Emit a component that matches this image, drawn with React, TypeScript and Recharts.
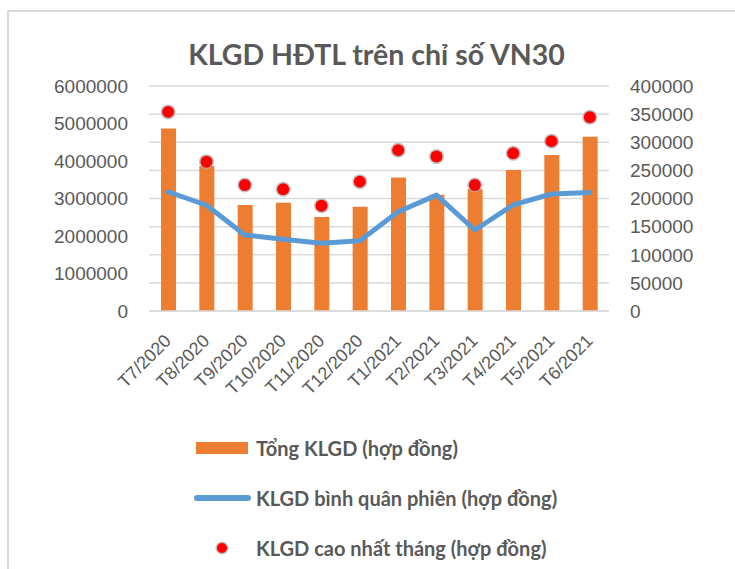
import React from 'react';
import { ComposedChart, Bar, Line, Scatter, XAxis, YAxis, CartesianGrid, Legend } from 'recharts';

const months = ['T7/2020', 'T8/2020', 'T9/2020', 'T10/2020', 'T11/2020', 'T12/2020', 'T1/2021', 'T2/2021', 'T3/2021', 'T4/2021', 'T5/2021', 'T6/2021'];
const totalVolume = [4870000, 3870000, 2830000, 2890000, 2510000, 2780000, 3560000, 3100000, 3250000, 3760000, 4160000, 4650000];
const avgPerSession = [212000, 188000, 135000, 127500, 120500, 125000, 176500, 206000, 144000, 188500, 208000, 210500];
const maxInMonth = [354000, 265500, 224000, 216500, 187000, 230000, 286000, 274500, 224000, 280500, 302000, 344500];
const leftTicks = [0, 1000000, 2000000, 3000000, 4000000, 5000000, 6000000];
const rightTicks = [0, 50000, 100000, 150000, 200000, 250000, 300000, 350000, 400000];
const seriesNames = ['Tổng KLGD (hợp đồng)', 'KLGD bình quân phiên (hợp đồng)', 'KLGD cao nhất tháng (hợp đồng)'];
const title = 'KLGD HĐTL trên chỉ số VN30';

const data = months.map((m, i) => ({ month: m, total: totalVolume[i], avg: avgPerSession[i], max: maxInMonth[i] }));

const FONT = 'Lato, "Open Sans", sans-serif';
const TICK_FONT = '"Liberation Sans", Arial, sans-serif';
const TEXT = '#595959';

const XTick = (props: any) => {
  const { x, y, payload } = props;
  const ax = x + 4;
  const ay = y + 23;
  return (
    <text x={ax} y={ay} transform={`rotate(-45, ${ax}, ${ay})`} textAnchor="end" fill={TEXT} fontSize={18} fontFamily={TICK_FONT}>
      {payload.value}
    </text>
  );
};

const LeftTick = (props: any) => {
  const { x, y, payload } = props;
  return (
    <text x={x} y={y} dy="0.36em" textAnchor="end" fill={TEXT} fontSize={19} fontFamily={TICK_FONT}>
      {payload.value}
    </text>
  );
};

const RightTick = (props: any) => {
  const { x, y, payload } = props;
  return (
    <text x={x} y={y} dy="0.36em" textAnchor="start" fill={TEXT} fontSize={19} fontFamily={TICK_FONT}>
      {payload.value}
    </text>
  );
};

const Dot = (props: any) => {
  const { cx, cy } = props;
  if (cx == null || cy == null) return null;
  return (
    <g>
      <circle cx={cx} cy={cy} r={7.5} fill="#A6A6A6" opacity={0.7} />
      <circle cx={cx} cy={cy} r={6} fill="#FF0000" />
    </g>
  );
};

const LegendContent = () => {
  const row: React.CSSProperties = { display: 'flex', alignItems: 'center', height: 50 };
  const label: React.CSSProperties = { fontFamily: FONT, fontWeight: 700, fontSize: 20, color: TEXT, marginLeft: 4, whiteSpace: 'nowrap' };
  return (
    <div style={{ width: 420 }}>
      <div style={row}>
        <div style={{ width: 60, display: 'flex', justifyContent: 'center' }}>
          <div style={{ width: 52, height: 12, background: '#ED7D31' }} />
        </div>
        <span style={label}>{seriesNames[0]}</span>
      </div>
      <div style={row}>
        <div style={{ width: 60, display: 'flex', justifyContent: 'center' }}>
          <div style={{ width: 57, height: 6, borderRadius: 3, background: '#5B9BD5' }} />
        </div>
        <span style={label}>{seriesNames[1]}</span>
      </div>
      <div style={row}>
        <div style={{ width: 60, display: 'flex', justifyContent: 'center' }}>
          <svg width={16} height={16}>
            <circle cx={8} cy={8} r={6.5} fill="#A6A6A6" opacity={0.7} />
            <circle cx={8} cy={8} r={5} fill="#FF0000" />
          </svg>
        </div>
        <span style={label}>{seriesNames[2]}</span>
      </div>
    </div>
  );
};

export default function App() {
  return (
    <div style={{ position: 'absolute', left: 0, top: 0, width: 735, height: 569, background: '#fff', overflow: 'hidden' }}>
      <div style={{ position: 'absolute', left: 7, top: 10, width: 728, height: 2, background: '#D9D9D9' }} />
      <div style={{ position: 'absolute', left: 7, top: 10, width: 2, height: 559, background: '#D9D9D9' }} />
      <div style={{ position: 'absolute', left: 0, top: 37, width: 753, textAlign: 'center', fontFamily: FONT, fontWeight: 700, fontSize: 28.5, lineHeight: 'normal', color: TEXT }}>
        {title}
      </div>
      <div style={{ position: 'absolute', left: 0, top: 0 }}>
        <ComposedChart width={735} height={569} data={data} margin={{ top: 86, right: 46, bottom: 198, left: 69 }}>
          <CartesianGrid yAxisId="right" vertical={false} stroke="#D9D9D9" strokeWidth={1.5} />
          <XAxis dataKey="month" axisLine={{ stroke: '#D9D9D9', strokeWidth: 1.5 }} tickLine={false} tick={<XTick />} interval={0} height={60} />
          <YAxis yAxisId="left" orientation="left" domain={[0, 6000000]} ticks={leftTicks} width={80} axisLine={false} tickLine={false} tickSize={0} tickMargin={21}
            tick={<LeftTick />} interval={0} />
          <YAxis yAxisId="right" orientation="right" domain={[0, 400000]} ticks={rightTicks} width={80} axisLine={false} tickLine={false} tickSize={0} tickMargin={21}
            tick={<RightTick />} interval={0} />
          <Bar yAxisId="left" dataKey="total" name={seriesNames[0]} fill="#ED7D31" barSize={15} isAnimationActive={false} />
          <Line yAxisId="right" dataKey="avg" name={seriesNames[1]} stroke="#5B9BD5" strokeWidth={5} strokeLinecap="round" strokeLinejoin="round" dot={false} type="linear" isAnimationActive={false} />
          <Scatter yAxisId="right" dataKey="max" name={seriesNames[2]} shape={<Dot />} isAnimationActive={false} />
          <Legend layout="vertical" align="center" verticalAlign="middle" content={<LegendContent />} wrapperStyle={{ position: 'absolute', left: 192, top: 423, width: 420 }} />
        </ComposedChart>
      </div>
    </div>
  );
}
